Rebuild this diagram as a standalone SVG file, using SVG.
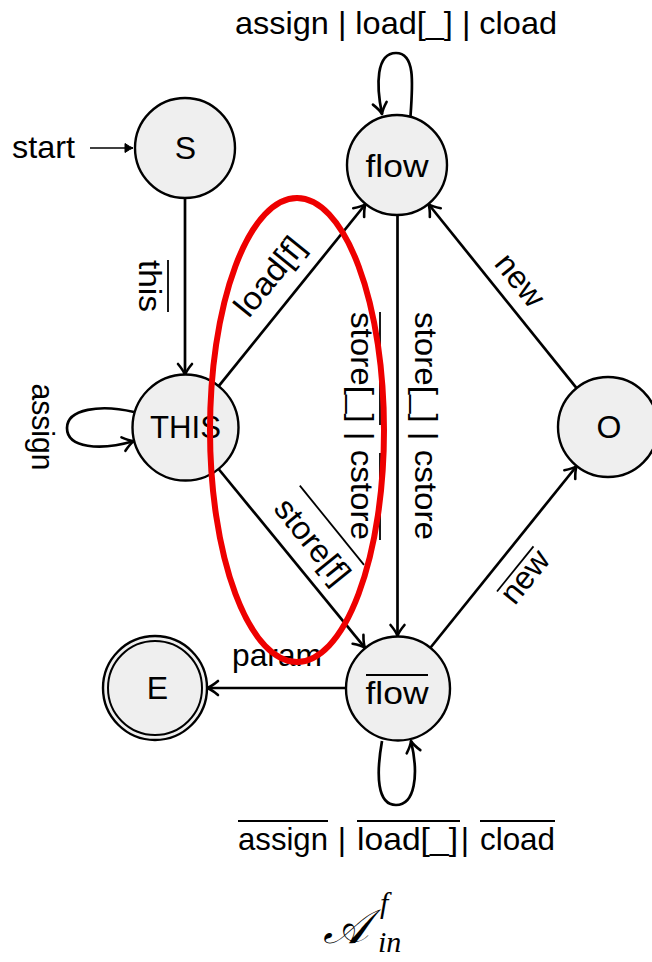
<svg xmlns="http://www.w3.org/2000/svg" width="652" height="962" viewBox="0 0 652 962">
  <style>
    .node { fill: #efefef; stroke: #000; stroke-width: 2.4; }
    .edge { fill: none; stroke: #000; stroke-width: 2.7; marker-end: url(#arr); }
    .loop { fill: none; stroke: #000; stroke-width: 2.7; marker-end: url(#arr); }
    .lbl { font-family: "Liberation Sans", Arial, sans-serif; font-size: 32px; fill: #000; }
    .mid { text-anchor: middle; }
    .ov { stroke: #000; stroke-width: 1.8; }
    .math { font-family: "Liberation Serif", "DejaVu Serif", serif; font-style: italic; fill: #000; }
  </style>
  <defs>
    <marker id="arr" markerUnits="userSpaceOnUse" markerWidth="24" markerHeight="24" viewBox="-14 -12 16 24" refX="0" refY="0" orient="auto">
      <path d="M-11,-7 Q-4.5,-1.5 0,0 Q-4.5,1.5 -11,7" fill="none" stroke="#000" stroke-width="2.6" stroke-linecap="round" stroke-linejoin="round"/>
    </marker>
    <marker id="arrs" markerUnits="userSpaceOnUse" markerWidth="16" markerHeight="16" viewBox="-10 -8 12 16" refX="0" refY="0" orient="auto">
      <path d="M-8,-4.5 Q-3,-1 0,0 Q-3,1 -8,4.5 Z" fill="#000" stroke="#000" stroke-width="1" stroke-linejoin="round"/>
    </marker>
  </defs>

  <rect width="652" height="962" fill="#fff"/>

  <!-- transitions -->
  <g id="edges">
    <line x1="90" y1="148" x2="133" y2="148" stroke="#000" stroke-width="1.7" marker-end="url(#arrs)"/>
    <line class="edge" x1="185" y1="198" x2="185" y2="375"/>
    <line class="edge" x1="218.3" y1="386.7" x2="365.6" y2="204"/>
    <line class="edge" x1="397.5" y1="215" x2="397.5" y2="636"/>
    <line class="edge" x1="576.6" y1="388.1" x2="428.4" y2="204"/>
    <line class="edge" x1="218.6" y1="469" x2="365" y2="647.8"/>
    <line class="edge" x1="430.6" y1="647.5" x2="576.7" y2="466"/>
    <line class="edge" x1="346" y1="688" x2="207" y2="688"/>
    <!-- self loops -->
    <path class="loop" d="M410.5,116 C413,82 415,53 396,53 C376,53 376,85 382,114"/>
    <path class="loop" d="M134,412 C100,404 67,409 67,428 C67,448 100,451 134,441"/>
    <path class="loop" d="M382,741 C376,775 377,805 396,805 C415,805 419,775 411,741"/>
  </g>

  <!-- transition labels -->
  <g id="edge-labels" class="lbl">
    <text x="396" y="34" class="mid" textLength="322" lengthAdjust="spacingAndGlyphs">assign | load[_] | cload</text>
    <text x="12" y="158" textLength="63" lengthAdjust="spacingAndGlyphs">start</text>

    <g transform="translate(139,286) rotate(90)">
      <text x="0" y="0" class="mid" textLength="52" lengthAdjust="spacingAndGlyphs">this</text>
      <line class="ov" x1="-26" y1="-29" x2="26" y2="-29"/>
    </g>

    <g transform="translate(32,427) rotate(90)">
      <text x="0" y="0" class="mid" textLength="87" lengthAdjust="spacingAndGlyphs">assign</text>
    </g>

    <g transform="translate(291,294) rotate(-51)">
      <text x="0" y="-17" class="mid" textLength="92" lengthAdjust="spacingAndGlyphs">load[f]</text>
    </g>

    <g transform="translate(351,426) rotate(90)">
      <text x="0" y="0" class="mid" textLength="228" lengthAdjust="spacingAndGlyphs">store[_] | cstore</text>
      <line class="ov" x1="-114" y1="-29" x2="-1" y2="-29"/>
      <line class="ov" x1="27" y1="-29" x2="114" y2="-29"/>
    </g>

    <g transform="translate(415,426) rotate(90)">
      <text x="0" y="0" class="mid" textLength="228" lengthAdjust="spacingAndGlyphs">store[_] | cstore</text>
    </g>

    <g transform="translate(291.5,558) rotate(51)">
      <text x="0" y="-16" class="mid" textLength="100" lengthAdjust="spacingAndGlyphs">store[f]</text>
      <line class="ov" x1="-51" y1="-52" x2="51" y2="-52"/>
    </g>

    <g transform="translate(501.7,295) rotate(51)">
      <text x="0" y="-13" class="mid">new</text>
    </g>

    <g transform="translate(502.8,558.9) rotate(-51)">
      <text x="0" y="39" class="mid">new</text>
      <line class="ov" x1="-29" y1="16" x2="29" y2="16"/>
    </g>

    <text x="232" y="666" textLength="90" lengthAdjust="spacingAndGlyphs">param</text>

    <text x="238" y="850" textLength="90" lengthAdjust="spacingAndGlyphs">assign</text>
    <text x="342" y="850" class="mid">|</text>
    <text x="357" y="850" textLength="101" lengthAdjust="spacingAndGlyphs">load[_]</text>
    <text x="465" y="850" class="mid">|</text>
    <text x="480" y="850" textLength="75" lengthAdjust="spacingAndGlyphs">cload</text>
    <line class="ov" x1="238" y1="821" x2="328" y2="821"/>
    <line class="ov" x1="357" y1="821" x2="460" y2="821"/>
    <line class="ov" x1="480" y1="821" x2="555" y2="821"/>
  </g>

  <!-- states -->
  <g id="S">
    <circle class="node" cx="185" cy="148" r="50"/>
    <text class="lbl mid" x="185.5" y="159">S</text>
  </g>
  <g id="flow">
    <circle class="node" cx="397" cy="165" r="50"/>
    <text class="lbl mid" x="397" y="177" textLength="63" lengthAdjust="spacingAndGlyphs">flow</text>
  </g>
  <g id="THIS">
    <circle class="node" cx="185.5" cy="427.5" r="53"/>
    <text class="lbl mid" x="185.5" y="438" textLength="71" lengthAdjust="spacingAndGlyphs">THIS</text>
  </g>
  <g id="O">
    <circle class="node" cx="608" cy="427" r="50"/>
    <text class="lbl mid" x="609" y="438">O</text>
  </g>
  <g id="flow-bar">
    <circle class="node" cx="398" cy="688.5" r="52"/>
    <text class="lbl mid" x="397" y="704" textLength="63" lengthAdjust="spacingAndGlyphs">flow</text>
    <line class="ov" x1="366" y1="675" x2="428" y2="675"/>
  </g>
  <g id="E">
    <circle class="node" cx="155" cy="688" r="52"/>
    <circle fill="none" stroke="#000" stroke-width="2" cx="155" cy="688" r="47"/>
    <text class="lbl mid" x="157.5" y="699">E</text>
  </g>

  <!-- automaton name -->
  <g id="caption" class="math">
    <text x="323" y="943" font-size="48">𝒜</text>
    <text x="380" y="913" font-size="30">f</text>
    <text x="378" y="952" font-size="30">in</text>
  </g>

  <!-- highlight ring -->
  <ellipse cx="297" cy="430" rx="87" ry="232" fill="none" stroke="#ee0000" stroke-width="6"/>
</svg>
